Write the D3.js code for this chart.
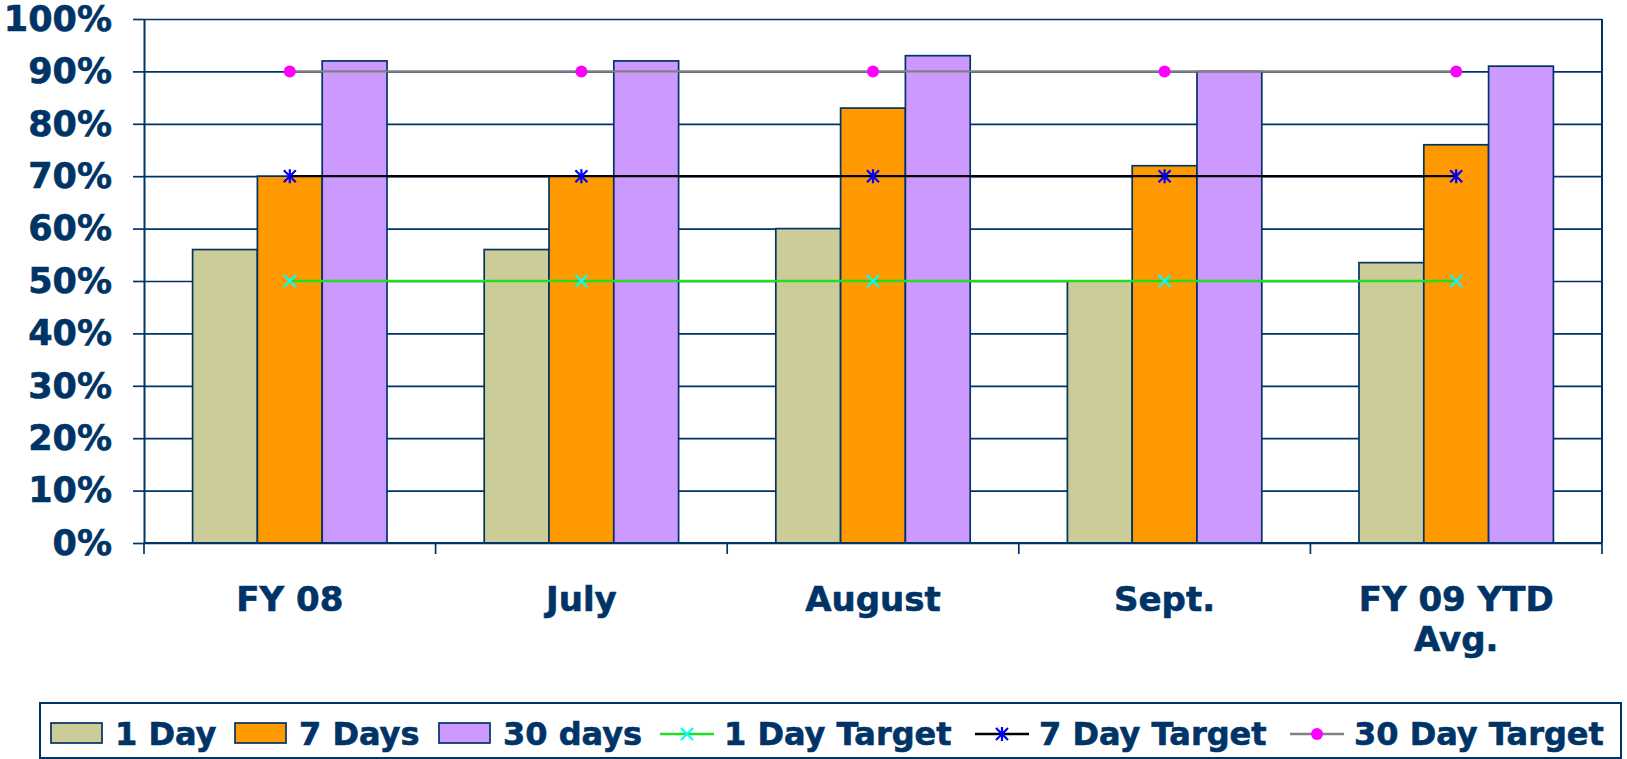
<!DOCTYPE html>
<html>
<head>
<meta charset="utf-8">
<script src="https://cdn.jsdelivr.net/npm/d3@7.9.0/dist/d3.min.js"></script>
<style>
  body { margin: 0; background: #fff; }
  svg { display: block; font-family: 'DejaVu Sans', Verdana, sans-serif; font-weight: bold; }
  .lbl { fill: #003366; stroke: #003366; stroke-width: 0.6px; }
</style>
</head>
<body>
<svg id="chart" width="1627" height="759"></svg>
<script>
const categories = ['FY 08', 'July', 'August', 'Sept.', 'FY 09 YTD\nAvg.'];
const seriesNames = ['1 Day', '7 Days', '30 days'];
const oneDay = [0.56, 0.56, 0.60, 0.50, 0.535];
const sevenDays = [0.70, 0.70, 0.83, 0.72, 0.76];
const thirtyDays = [0.92, 0.92, 0.93, 0.90, 0.91];
const oneDayTarget = [0.50, 0.50, 0.50, 0.50, 0.50];
const sevenDayTarget = [0.70, 0.70, 0.70, 0.70, 0.70];
const thirtyDayTarget = [0.90, 0.90, 0.90, 0.90, 0.90];
const yTicks = [0, 0.1, 0.2, 0.3, 0.4, 0.5, 0.6, 0.7, 0.8, 0.9, 1.0];

const navy = '#003366';
const barColors = ['#CCCC99', '#FF9900', '#CC99FF'];
const barSeries = [oneDay, sevenDays, thirtyDays];

const targets = [
  { name: '1 Day Target', values: oneDayTarget, line: '#22DD22', marker: '#00FFFF', shape: 'x' },
  { name: '7 Day Target', values: sevenDayTarget, line: '#000000', marker: '#0000FF', shape: 'star' },
  { name: '30 Day Target', values: thirtyDayTarget, line: '#808080', marker: '#FF00FF', shape: 'dot' }
];

// legend slot left edges (layout only)
const legendSlots = [51, 235, 439, 660, 975, 1290];

const svg = d3.select('#chart');
const plot = { left: 144, right: 1602, top: 19, bottom: 543 };

const x0 = d3.scaleBand().domain(categories).range([plot.left, plot.right]).padding(0);
const bw = x0.bandwidth();
const x1 = d3.scaleBand().domain(seriesNames).range([bw / 6, bw * 5 / 6]).padding(0);
const y = d3.scaleLinear().domain([0, 1]).range([plot.bottom, plot.top]);

// gridlines + y axis
const yAxis = d3.axisLeft(y)
  .tickValues(yTicks)
  .tickFormat(d3.format('.0%'))
  .tickSize(-(plot.right - plot.left))
  .tickSizeOuter(0);

const yg = svg.append('g')
  .attr('transform', `translate(${plot.left},0)`)
  .call(yAxis);
yg.select('.domain').attr('stroke', navy).attr('stroke-width', 2);
yg.selectAll('.tick line').attr('stroke', navy).attr('stroke-width', 1.7);
yg.selectAll('.tick').append('line')
  .attr('x1', -11).attr('x2', 0)
  .attr('stroke', navy).attr('stroke-width', 1.7);
yg.selectAll('.tick text')
  .attr('x', -32)
  .attr('class', 'lbl')
  .style('font-size', '35px')
  .style('font-family', "'DejaVu Sans', sans-serif")
  .style('font-weight', 'bold');

// right border
svg.append('line')
  .attr('x1', plot.right).attr('x2', plot.right)
  .attr('y1', plot.top).attr('y2', plot.bottom)
  .attr('stroke', navy).attr('stroke-width', 2);

// bars
const groups = svg.append('g').selectAll('g')
  .data(categories)
  .join('g')
  .attr('transform', d => `translate(${x0(d)},0)`);

groups.selectAll('rect')
  .data((d, i) => barSeries.map((s, k) => ({ key: seriesNames[k], value: s[i], color: barColors[k] })))
  .join('rect')
  .attr('x', d => x1(d.key))
  .attr('width', x1.bandwidth())
  .attr('y', d => y(d.value))
  .attr('height', d => y(0) - y(d.value))
  .attr('fill', d => d.color)
  .attr('stroke', navy)
  .attr('stroke-width', 1.7);

// x axis
svg.append('line')
  .attr('x1', plot.left).attr('x2', plot.right)
  .attr('y1', plot.bottom).attr('y2', plot.bottom)
  .attr('stroke', navy).attr('stroke-width', 2.2);

const xTicks = categories.map(c => x0(c)).concat([plot.right]);
svg.append('g').selectAll('line')
  .data(xTicks)
  .join('line')
  .attr('x1', d => d).attr('x2', d => d)
  .attr('y1', plot.bottom).attr('y2', plot.bottom + 11)
  .attr('stroke', navy).attr('stroke-width', 1.7);

svg.append('g').selectAll('text')
  .data(categories)
  .join('text')
  .attr('class', 'lbl')
  .attr('x', d => x0(d) + bw / 2)
  .attr('y', 611)
  .attr('text-anchor', 'middle')
  .style('font-size', '34px')
  .selectAll('tspan')
  .data(d => d.split('\n'))
  .join('tspan')
  .attr('x', function () { return d3.select(this.parentNode).attr('x'); })
  .attr('dy', (d, i) => i === 0 ? 0 : 40)
  .text(d => d);

// markers
function drawMarker(g, shape, color, cx, cy) {
  if (shape === 'x') {
    const s = 6;
    g.append('path')
      .attr('d', `M${cx - s},${cy - s}L${cx + s},${cy + s}M${cx - s},${cy + s}L${cx + s},${cy - s}`)
      .attr('stroke', color).attr('stroke-width', 2.2).attr('fill', 'none');
  } else if (shape === 'star') {
    const s = 6;
    g.append('path')
      .attr('d', `M${cx - s},${cy - s}L${cx + s},${cy + s}M${cx - s},${cy + s}L${cx + s},${cy - s}M${cx},${cy - s - 1}L${cx},${cy + s + 1}`)
      .attr('stroke', color).attr('stroke-width', 2.2).attr('fill', 'none');
  } else {
    g.append('circle')
      .attr('cx', cx).attr('cy', cy).attr('r', 6)
      .attr('fill', color);
  }
}

// target lines
const lineGen = d3.line()
  .x((d, i) => x0(categories[i]) + bw / 2)
  .y(d => y(d));

targets.forEach(t => {
  const g = svg.append('g');
  g.append('path')
    .attr('d', lineGen(t.values))
    .attr('fill', 'none')
    .attr('stroke', t.line)
    .attr('stroke-width', 2.3);
  t.values.forEach((v, i) => drawMarker(g, t.shape, t.marker, x0(categories[i]) + bw / 2, y(v)));
});

// legend
const legend = svg.append('g');
legend.append('rect')
  .attr('x', 40).attr('y', 703)
  .attr('width', 1581).attr('height', 55)
  .attr('fill', '#fff')
  .attr('stroke', navy).attr('stroke-width', 2);

const legendItems = seriesNames.map((n, k) => ({ name: n, type: 'bar', color: barColors[k] }))
  .concat(targets.map(t => ({ name: t.name, type: 'line', t })));

legendItems.forEach((item, i) => {
  const lx = legendSlots[i];
  if (item.type === 'bar') {
    legend.append('rect')
      .attr('x', lx).attr('y', 723)
      .attr('width', 51).attr('height', 20)
      .attr('fill', item.color)
      .attr('stroke', navy).attr('stroke-width', 1.7);
  } else {
    legend.append('line')
      .attr('x1', lx).attr('x2', lx + 54)
      .attr('y1', 734).attr('y2', 734)
      .attr('stroke', item.t.line).attr('stroke-width', 2.3);
    drawMarker(legend, item.t.shape, item.t.marker, lx + 27, 734);
  }
  legend.append('text')
    .attr('class', 'lbl')
    .attr('x', lx + 64)
    .attr('y', 745)
    .style('font-size', '32px')
    .text(item.name);
});
</script>
</body>
</html>
